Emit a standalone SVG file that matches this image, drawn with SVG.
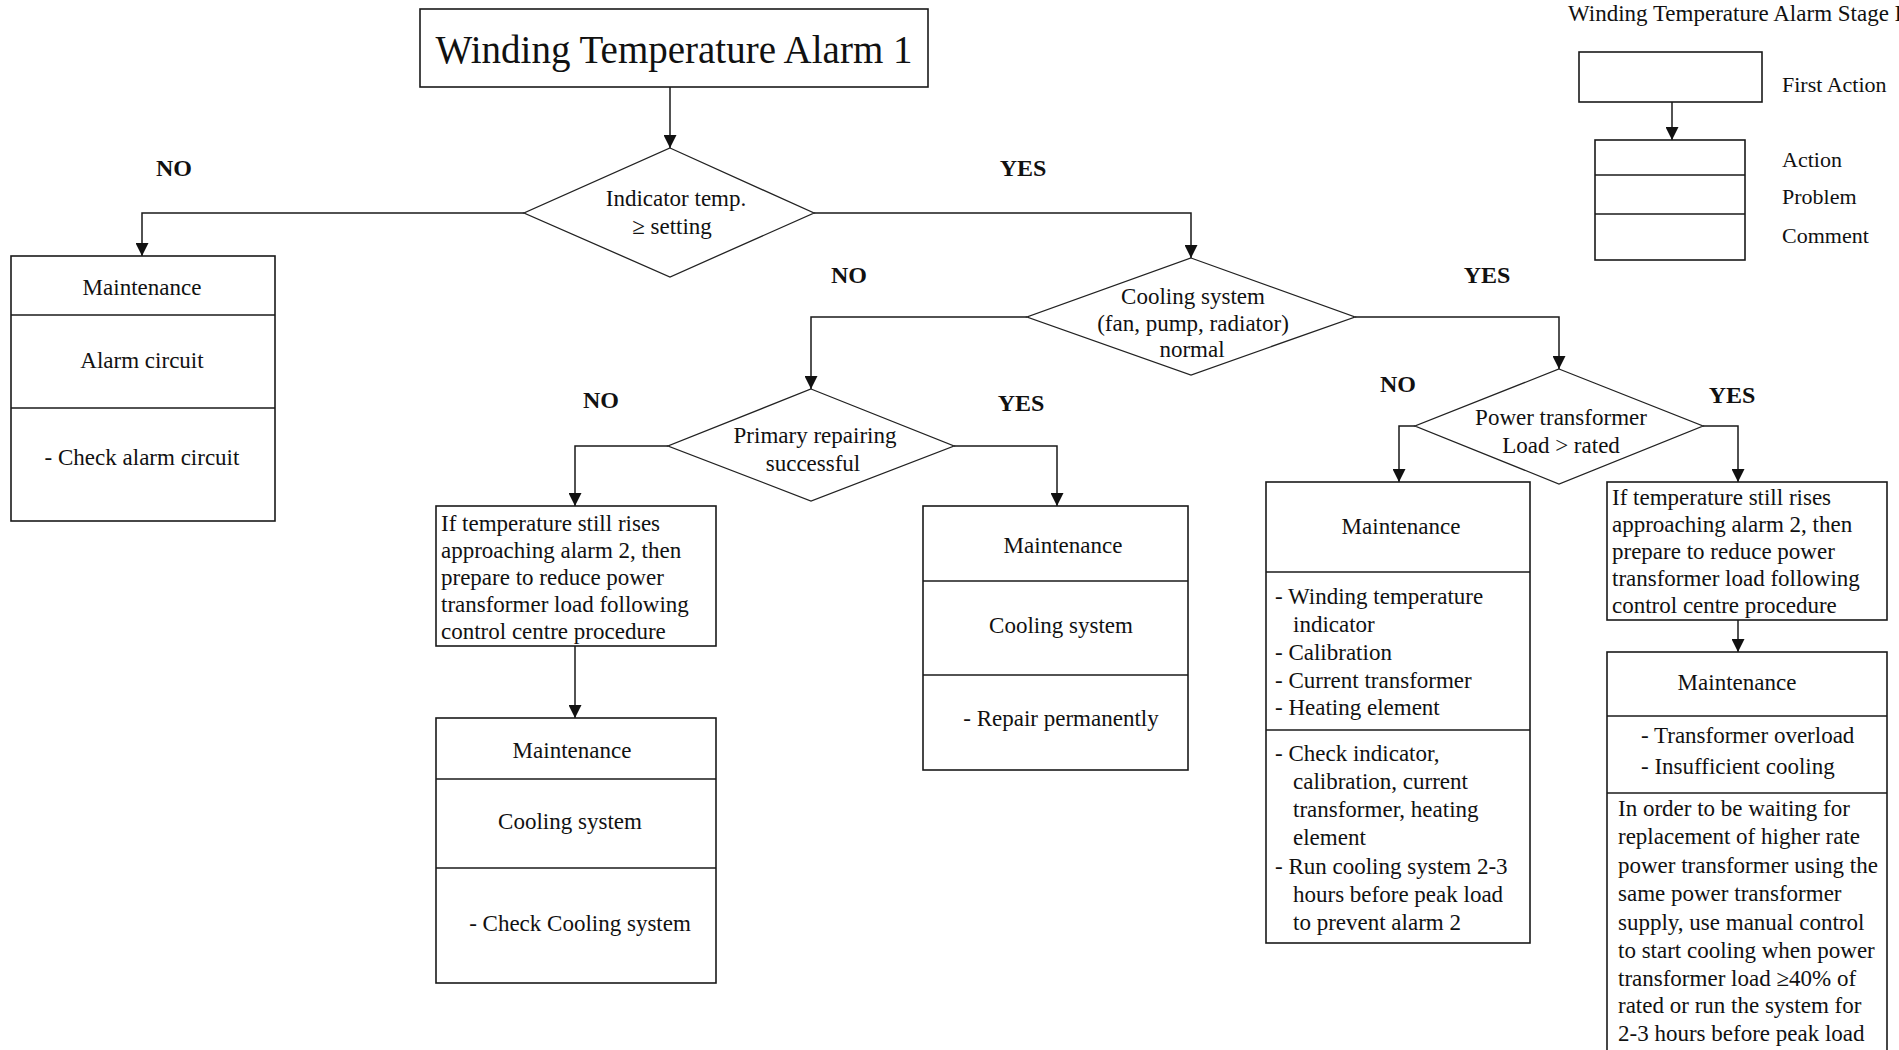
<svg xmlns="http://www.w3.org/2000/svg" width="1899" height="1050" viewBox="0 0 1899 1050">
  <style>
    .box { fill: #fff; stroke: #1a1a1a; stroke-width: 1.6; }
    .div { stroke: #1a1a1a; stroke-width: 1.4; fill: none; }
    .dia { fill: #fff; stroke: #222; stroke-width: 1.3; }
    .edge { fill: none; stroke: #1a1a1a; stroke-width: 1.5; marker-end: url(#arrow); }
    text { font-family: "Liberation Serif", "Times New Roman", serif; fill: #111; }
    .t { font-size: 23px; }
    .c { text-anchor: middle; }
    .title { font-size: 39px; text-anchor: middle; }
    .lbl { font-size: 24px; font-weight: bold; text-anchor: middle; }
    .leg { font-size: 22px; }
    .legtitle { font-size: 23px; }
  </style>
  <defs>
    <marker id="arrow" markerUnits="userSpaceOnUse" markerWidth="13" markerHeight="13" refX="13" refY="6.5" orient="auto">
      <path d="M0,0 L13,6.5 L0,13 z" fill="#111"/>
    </marker>
  </defs>
  <rect width="1899" height="1050" fill="#fff"/>

  <!-- connectors -->
  <g id="connectors">
    <path class="edge" d="M670,87 V148"/>
    <path class="edge" d="M524,213 H142 V256"/>
    <path class="edge" d="M814,213 H1191 V258"/>
    <path class="edge" d="M1027,317 H811 V389"/>
    <path class="edge" d="M1355,317 H1559 V369"/>
    <path class="edge" d="M668,446 H575 V506"/>
    <path class="edge" d="M575,646 V718"/>
    <path class="edge" d="M954,446 H1057 V506"/>
    <path class="edge" d="M1415,426 H1399 V482"/>
    <path class="edge" d="M1703,426 H1738 V482"/>
    <path class="edge" d="M1738,620 V652"/>
    <path class="edge" d="M1672,102 V140"/>
  </g>

  <!-- branch labels -->
  <g id="labels">
    <text class="lbl" x="174" y="176">NO</text>
    <text class="lbl" x="1023" y="176">YES</text>
    <text class="lbl" x="849" y="283">NO</text>
    <text class="lbl" x="1487" y="283">YES</text>
    <text class="lbl" x="601" y="408">NO</text>
    <text class="lbl" x="1021" y="411">YES</text>
    <text class="lbl" x="1398" y="392">NO</text>
    <text class="lbl" x="1732" y="403">YES</text>
  </g>

  <g id="start">
    <rect class="box" x="420" y="9" width="508" height="78"/>
    <text class="title" x="674" y="63">Winding Temperature Alarm 1</text>
  </g>

  <g id="q-indicator">
    <polygon class="dia" points="670,148 814,213 670,277 524,213"/>
    <text class="t c" x="676" y="206">Indicator temp.</text>
    <text class="t c" x="672" y="234">≥ setting</text>
  </g>

  <g id="q-cooling">
    <polygon class="dia" points="1191,258 1355,317 1191,375 1027,317"/>
    <text class="t c" x="1193" y="304">Cooling system</text>
    <text class="t c" x="1193" y="331">(fan, pump, radiator)</text>
    <text class="t c" x="1192" y="357">normal</text>
  </g>

  <g id="q-repair">
    <polygon class="dia" points="811,389 954,446 811,501 668,446"/>
    <text class="t c" x="815" y="443">Primary repairing</text>
    <text class="t c" x="813" y="471">successful</text>
  </g>

  <g id="q-load">
    <polygon class="dia" points="1559,369 1703,426 1559,484 1415,426"/>
    <text class="t c" x="1561" y="425">Power transformer</text>
    <text class="t c" x="1561" y="453">Load &gt; rated</text>
  </g>

  <g id="m-alarm">
    <rect class="box" x="11" y="256" width="264" height="265"/>
    <line class="div" x1="11" y1="315" x2="275" y2="315"/>
    <line class="div" x1="11" y1="408" x2="275" y2="408"/>
    <text class="t c" x="142" y="295">Maintenance</text>
    <text class="t c" x="142" y="368">Alarm circuit</text>
    <text class="t c" x="142" y="465">- Check alarm circuit</text>
  </g>

  <g id="a-reduce-1">
    <rect class="box" x="436" y="506" width="280" height="140"/>
    <text class="t" x="441" y="531">If temperature still rises</text>
    <text class="t" x="441" y="558">approaching alarm 2, then</text>
    <text class="t" x="441" y="585">prepare to reduce power</text>
    <text class="t" x="441" y="612">transformer load following</text>
    <text class="t" x="441" y="639">control centre procedure</text>
  </g>

  <g id="m-check-cooling">
    <rect class="box" x="436" y="718" width="280" height="265"/>
    <line class="div" x1="436" y1="779" x2="716" y2="779"/>
    <line class="div" x1="436" y1="868" x2="716" y2="868"/>
    <text class="t c" x="572" y="758">Maintenance</text>
    <text class="t c" x="570" y="829">Cooling system</text>
    <text class="t c" x="580" y="931">- Check Cooling system</text>
  </g>

  <g id="m-repair">
    <rect class="box" x="923" y="506" width="265" height="264"/>
    <line class="div" x1="923" y1="581" x2="1188" y2="581"/>
    <line class="div" x1="923" y1="675" x2="1188" y2="675"/>
    <text class="t c" x="1063" y="553">Maintenance</text>
    <text class="t c" x="1061" y="633">Cooling system</text>
    <text class="t c" x="1061" y="726">- Repair permanently</text>
  </g>

  <g id="m-indicator">
    <rect class="box" x="1266" y="482" width="264" height="461"/>
    <line class="div" x1="1266" y1="572" x2="1530" y2="572"/>
    <line class="div" x1="1266" y1="730" x2="1530" y2="730"/>
    <text class="t c" x="1401" y="534">Maintenance</text>
    <text class="t" x="1275" y="604">- Winding temperature</text>
    <text class="t" x="1293" y="632">indicator</text>
    <text class="t" x="1275" y="660">- Calibration</text>
    <text class="t" x="1275" y="688">- Current transformer</text>
    <text class="t" x="1275" y="715">- Heating element</text>
    <text class="t" x="1275" y="761">- Check indicator,</text>
    <text class="t" x="1293" y="789">calibration, current</text>
    <text class="t" x="1293" y="817">transformer, heating</text>
    <text class="t" x="1293" y="845">element</text>
    <text class="t" x="1275" y="874">- Run cooling system 2-3</text>
    <text class="t" x="1293" y="902">hours before peak load</text>
    <text class="t" x="1293" y="930">to prevent alarm 2</text>
  </g>

  <g id="a-reduce-2">
    <rect class="box" x="1607" y="482" width="280" height="138"/>
    <text class="t" x="1612" y="505">If temperature still rises</text>
    <text class="t" x="1612" y="532">approaching alarm 2, then</text>
    <text class="t" x="1612" y="559">prepare to reduce power</text>
    <text class="t" x="1612" y="586">transformer load following</text>
    <text class="t" x="1612" y="613">control centre procedure</text>
  </g>

  <g id="m-overload">
    <rect class="box" x="1607" y="652" width="280" height="420"/>
    <line class="div" x1="1607" y1="716" x2="1887" y2="716"/>
    <line class="div" x1="1607" y1="793" x2="1887" y2="793"/>
    <text class="t c" x="1737" y="690">Maintenance</text>
    <text class="t" x="1641" y="743">- Transformer overload</text>
    <text class="t" x="1641" y="774">- Insufficient cooling</text>
    <text class="t" x="1618" y="816">In order to be waiting for</text>
    <text class="t" x="1618" y="844">replacement of higher rate</text>
    <text class="t" x="1618" y="873">power transformer using the</text>
    <text class="t" x="1618" y="901">same power transformer</text>
    <text class="t" x="1618" y="930">supply, use manual control</text>
    <text class="t" x="1618" y="958">to start cooling when power</text>
    <text class="t" x="1618" y="986">transformer load ≥40% of</text>
    <text class="t" x="1618" y="1013">rated or run the system for</text>
    <text class="t" x="1618" y="1041">2-3 hours before peak load</text>
  </g>

  <!-- legend -->
  <g id="legend">
    <text class="legtitle" x="1568" y="21">Winding Temperature Alarm Stage I</text>
    <rect class="box" x="1579" y="52" width="183" height="50"/>
    <rect class="box" x="1595" y="140" width="150" height="120"/>
    <line class="div" x1="1595" y1="175" x2="1745" y2="175"/>
    <line class="div" x1="1595" y1="214" x2="1745" y2="214"/>
    <text class="leg" x="1782" y="92">First Action</text>
    <text class="leg" x="1782" y="167">Action</text>
    <text class="leg" x="1782" y="204">Problem</text>
    <text class="leg" x="1782" y="243">Comment</text>
  </g>
</svg>
